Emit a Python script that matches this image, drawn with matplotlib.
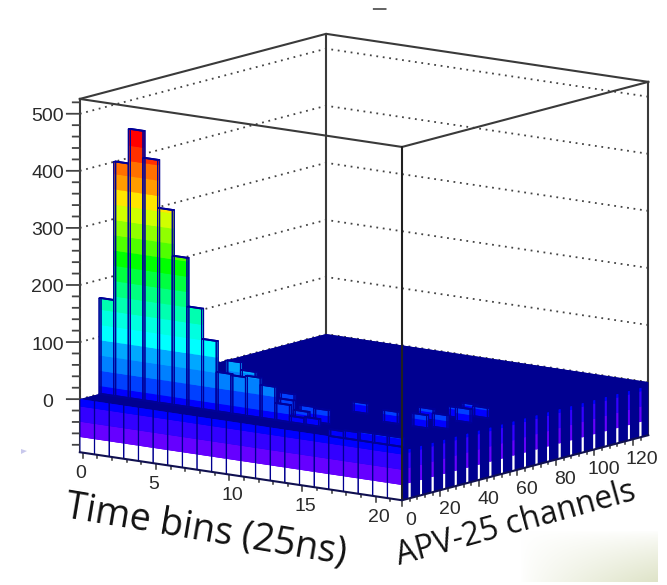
#=========================================================================
import numpy as np
import matplotlib
matplotlib.use('Agg')
import matplotlib.pyplot as plt
from matplotlib.patches import Polygon

#=========================================================================
# axis ranges of the lego cube
x_range = [-0.2, 21.8]
y_range = [0.0, 128.0]
z_range = [-93.0, 526.0]

x_ticks = [0, 5, 10, 15, 20]
y_ticks = [0, 20, 40, 60, 80, 100, 120]
z_ticks = [0, 100, 200, 300, 400, 500]

# contour levels of the lego, one colour for each band
levels = [-93.0, -66.2, -39.4, -12.6, 14.2, 41.0, 67.8, 94.6, 121.4, 148.2, 175.0,
          201.8, 228.6, 255.4, 282.2, 309.0, 335.8, 362.6, 389.4, 416.2, 443.0, 480.0]
band_colors = ['#ffffff', '#6600ff', '#3300ff', '#0000ff', '#0040ff', '#0080ff',
               '#00a8ff', '#00ffff', '#00ffe0', '#00ffb0', '#00ff80', '#00ff40',
               '#00ff00', '#50ff00', '#90ff00', '#d0ff00', '#ffe600', '#ff9c00',
               '#ff7000', '#ff3000', '#ff0000']
navy = '#000090'

# the level of all the empty cells
floor_level = 0.0
n_time_bins = 22

# main pulse, channel 10, one height per time bin
pulse_channel = 10
pulse_heights = [168, 411, 472, 425, 341, 261, 176, 123, 69, 67, 70, 58, 30, 11, 13]

# small hits elsewhere: time bin, channel, height
hit_bins = [8, 9, 12, 11, 13, 13, 14, 14, 17, 18, 19, 20, 19, 19, 20, 20, 17, 18, 19, 20, 21]
hit_channels = [15, 15, 12, 20, 12, 15, 15, 35, 28, 39, 28, 31, 47, 54, 43, 52, 0, 0, 0, 0, 0]
hit_heights = [85, 72, 36, 36, 20, 26, 24, 18, 21, 20, 23, 24, 18, 18, 24, 18, 12, 14, 16, 16, 16]

# visible side stripes on the x max face
stripe_channels = [3.6, 9.6, 15.6, 21.6, 27.6, 33.6, 39.6, 45.6, 51.6, 57.6, 63.6,
                   69.6, 75.6, 81.6, 87.6, 93.6, 99.6, 105.6, 111.6, 117.6, 123.6]
stripe_top = -7.0

#=========================================================================
def band_boxes(x, y, dx, dy, base, top):
  xs, ys, zs, dxs, dys, dzs, cols = [], [], [], [], [], [], []
  for k in range(len(band_colors)):
    z0 = max(levels[k], base)
    z1 = min(levels[k+1], top)
    if(z1 > z0):
      xs.append(x)
      ys.append(y)
      zs.append(z0)
      dxs.append(dx)
      dys.append(dy)
      dzs.append(z1 - z0)
      cols.append(band_colors[k])
  return xs, ys, zs, dxs, dys, dzs, cols

def draw_column(ax, x, y, dx, dy, top, zorder):
  xs, ys, zs, dxs, dys, dzs, cols = band_boxes(x, y, dx, dy, floor_level, top)
  ax.bar3d(xs, ys, zs, dxs, dys, dzs, color=cols, shade=False, linewidth=0, zorder=zorder)
  ax.bar3d(x, y, floor_level, dx, dy, top - floor_level, color=[(0, 0, 0, 0)],
           shade=False, edgecolor='#000098', linewidth=0.8, zorder=zorder + 0.5)

def line3d(ax, x, y, z, zorder=50, color='#3a3a3a', lw=1.5, **kw):
  ax.plot(x, y, z, color=color, lw=lw, zorder=zorder, solid_capstyle='projecting', **kw)

#=========================================================================
fig = plt.figure(figsize=(6.67, 5.85), dpi=100)

# pale smudge of the screenshot in the lower right corner
yy, xx = np.mgrid[0:52, 0:138]
fade = ((xx/138.0)*(yy/52.0))[:, :, None]**0.8
smudge = 1.0 - fade*np.array([0.13, 0.11, 0.22])
fig.figimage(smudge, xo=520, yo=3, origin='upper', zorder=0)
fig.add_artist(Polygon([[21/667, 1 - 449/585], [27/667, 1 - 451/585], [21/667, 1 - 454/585]],
                       closed=True, transform=fig.transFigure, facecolor='#c8c8ec', edgecolor='none'))

size = 658.7
ax = fig.add_axes([25.8/667, -20.3/585, size/667, size/585], projection='3d',
                  computed_zorder=False)
ax.set_proj_type('ortho')
ax.view_init(elev=11.45, azim=-53.09)
ax.set_box_aspect((402.6, 409.7, 360.2))
ax.set_autoscale_on(False)
ax.patch.set_alpha(0)

x0, x1 = x_range
y0, y1 = y_range
zlo, zhi = z_range

# back walls
for z in z_ticks:
  ax.plot([x0, x0, x1], [y0, y1, y1], [z, z, z], color='#444444', lw=1.3,
          linestyle=(0, (1, 2.6)), zorder=1)
line3d(ax, [x0, x0], [y1, y1], [zlo, zhi], zorder=2)
line3d(ax, [x1, x1], [y1, y1], [zlo, zhi], zorder=2)
line3d(ax, [x0, x0], [y0, y0], [zlo, zhi], zorder=2)
line3d(ax, [x0, x0, x1], [y0, y1, y1], [zhi, zhi, zhi], zorder=2)

# the block of empty cells
ax.bar3d(x0, y0, zlo, x1 - x0, y1 - y0, floor_level - zlo, color=navy, shade=False,
         linewidth=0, zorder=5)

# front face, one column per time bin
for i in range(n_time_bins):
  xs, ys, zs, dxs, dys, dzs, cols = band_boxes(x0 + i + 0.06, y0, 0.88, 0.02, zlo, floor_level)
  ax.bar3d(xs, ys, zs, dxs, dys, dzs, color=cols, shade=False, linewidth=0, zorder=6)

# right face stripes
for c in stripe_channels:
  xs, ys, zs, dxs, dys, dzs, cols = band_boxes(x1 - 0.02, c, 0.02, 0.8, zlo, stripe_top)
  ax.bar3d(xs, ys, zs, dxs, dys, dzs, color=cols, shade=False, linewidth=0, zorder=7)

# filled cells, painted from back to front
cells = []
for i in range(len(pulse_heights)):
  cells.append((i, pulse_channel, pulse_heights[i]))
for i in range(len(hit_bins)):
  cells.append((hit_bins[i], hit_channels[i], hit_heights[i]))
cells.sort(key=lambda cell: 11.0*cell[0] - 2.56*cell[1])
for n in range(len(cells)):
  b, c, h = cells[n]
  draw_column(ax, x0 + b, c, 1.0, 1.0, h, 10 + n)

# front of the cube
line3d(ax, [x0, x1, x1], [y0, y0, y1], [zhi, zhi, zhi], zorder=80)
line3d(ax, [x1, x1], [y0, y0], [zlo, zhi], zorder=80, color='#202020')
line3d(ax, [x0, x1, x1], [y0, y0, y1], [zlo, zlo, zlo], zorder=80, color='#101050')

# tick marks, the z ones are horizontal on the screen
def z_tick(z, dx, dy):
  line3d(ax, [x0, x0 - dx], [y0, y0 - dy], [z, z], zorder=3, color='#444444', lw=1.3)

for z in np.arange(-80, 521, 20):
  if(z in z_ticks):
    z_tick(z, 0.57, 2.43)
  else:
    z_tick(z, 0.31, 1.31)
for x in np.arange(0, 22, 1):
  dz = 10.0 if x in x_ticks else 5.0
  line3d(ax, [x, x], [y0, y0], [zlo, zlo - dz], zorder=3, color='#333333', lw=1.1)
for y in np.arange(0, 128, 4):
  dz = 10.0 if y in y_ticks else 5.0
  line3d(ax, [x1, x1], [y, y], [zlo, zlo - dz], zorder=3, color='#333333', lw=1.1)

# axes and labels
ax.set_xticks(x_ticks)
ax.set_yticks(y_ticks)
ax.set_zticks(z_ticks)
ax.grid(False)
for axis in [ax.xaxis, ax.yaxis, ax.zaxis]:
  axis.set_pane_color((1, 1, 1, 0))
  axis.line.set_color((1, 1, 1, 0))
ax.zaxis.set_ticks_position('lower')
ax.tick_params(axis='x', color='none', labelcolor='#2a2a2a', labelsize=14, pad=-0.5)
ax.tick_params(axis='y', color='none', labelcolor='#2a2a2a', labelsize=14, pad=-1)
ax.tick_params(axis='z', color='none', labelcolor='#2a2a2a', labelsize=14, pad=6)
for lab in ax.get_xticklabels() + ax.get_yticklabels() + ax.get_zticklabels():
  lab.set_fontfamily('Liberation Sans')
for lab in ax.get_xticklabels():
  lab.set_ha('left')
for lab in ax.get_zticklabels():
  lab.set_va('center_baseline')

ax.set_xlim(x0, x1, view_margin=0)
ax.set_ylim(y0, y1, view_margin=0)
ax.set_zlim(zlo, zhi, view_margin=0)

fig.text(206/667, 1 - 530/585, 'Time bins (25ns)', rotation=-9.6, fontsize=27,
         family='Open Sans', color='#111111', ha='center', va='center')
fig.text(516/667, 1 - 524/585, 'APV-25 channels', rotation=15.4, fontsize=23,
         family='Open Sans', color='#111111', ha='center', va='center')
fig.text(379/667, 1 - 1/585, '\u2014', color='#666666', fontsize=11, fontweight='bold',
         ha='center', va='top')

fig.savefig('out.png', dpi=100)
